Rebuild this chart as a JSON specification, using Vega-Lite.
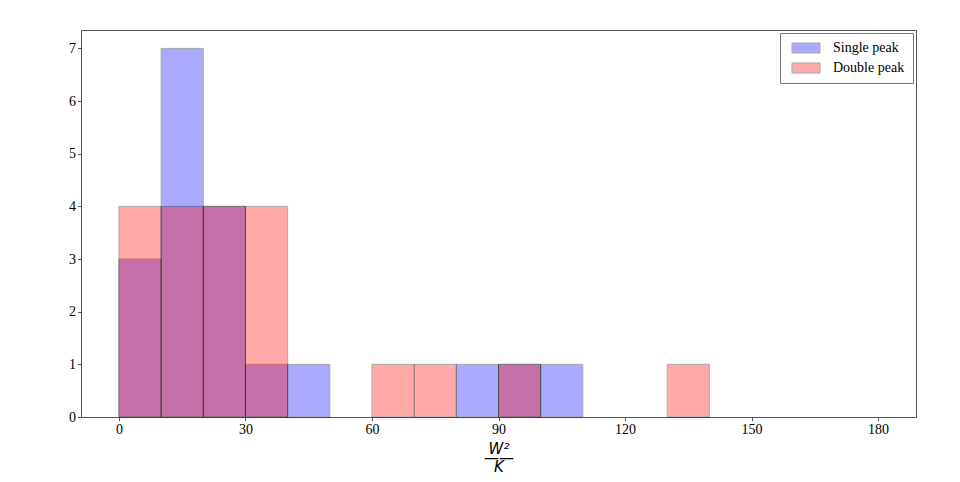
{
  "$schema": "https://vega.github.io/schema/vega-lite/v6.json",
  "width": 835,
  "height": 387,
  "autosize": {"type": "none"},
  "padding": {"left": 81, "top": 30, "right": 44, "bottom": 65},
  "background": "white",
  "config": {
    "view": {"stroke": "#555", "strokeWidth": 1},
    "axis": {
      "grid": false,
      "domainColor": "#555",
      "tickColor": "#555",
      "tickSize": 3.5,
      "labelFont": "Liberation Serif",
      "labelFontSize": 14,
      "labelColor": "#000",
      "labelPadding": 2
    },
    "legend": {
      "labelFont": "Liberation Serif",
      "labelFontSize": 14,
      "labelColor": "#000"
    }
  },
  "datasets": {
    "bins": [
      {"series": "Single peak", "start": 0, "end": 10, "count": 3},
      {"series": "Single peak", "start": 10, "end": 20, "count": 7},
      {"series": "Single peak", "start": 20, "end": 30, "count": 4},
      {"series": "Single peak", "start": 30, "end": 40, "count": 1},
      {"series": "Single peak", "start": 40, "end": 50, "count": 1},
      {"series": "Single peak", "start": 80, "end": 90, "count": 1},
      {"series": "Single peak", "start": 90, "end": 100, "count": 1},
      {"series": "Single peak", "start": 100, "end": 110, "count": 1},
      {"series": "Double peak", "start": 0, "end": 10, "count": 4},
      {"series": "Double peak", "start": 10, "end": 20, "count": 4},
      {"series": "Double peak", "start": 20, "end": 30, "count": 4},
      {"series": "Double peak", "start": 30, "end": 40, "count": 4},
      {"series": "Double peak", "start": 60, "end": 70, "count": 1},
      {"series": "Double peak", "start": 70, "end": 80, "count": 1},
      {"series": "Double peak", "start": 90, "end": 100, "count": 1},
      {"series": "Double peak", "start": 130, "end": 140, "count": 1}
    ]
  },
  "data": {"name": "bins"},
  "encoding": {
    "x": {
      "field": "start",
      "type": "quantitative",
      "scale": {"domain": [-9, 189], "nice": false, "zero": false},
      "axis": {
        "values": [0, 30, 60, 90, 120, 150, 180],
        "title": ["W²", "——", "K"],
        "titleFont": "DejaVu Sans",
        "titleFontStyle": "italic",
        "titleFontWeight": "normal",
        "titleFontSize": 15,
        "titleLineHeight": 9,
        "titlePadding": 5,
        "titleColor": "#000"
      }
    },
    "x2": {"field": "end"},
    "y": {
      "field": "count",
      "type": "quantitative",
      "scale": {"domain": [0, 7.35], "nice": false},
      "axis": {"values": [0, 1, 2, 3, 4, 5, 6, 7], "title": null}
    },
    "y2": {"datum": 0},
    "color": {
      "field": "series",
      "type": "nominal",
      "scale": {"domain": ["Single peak", "Double peak"], "range": ["#0000ff", "#ff0000"]},
      "legend": {
        "title": null,
        "orient": "top-right",
        "offset": 3,
        "strokeColor": "#777",
        "fillColor": "white",
        "padding": 8,
        "rowPadding": 6,
        "symbolType": "M-2.8,-1H2.8V1H-2.8Z",
        "symbolSize": 100,
        "symbolOffset": 11,
        "symbolStrokeColor": "#000",
        "symbolStrokeWidth": 1,
        "symbolOpacity": 0.333,
        "labelOffset": 20,
        "cornerRadius": 0
      }
    }
  },
  "layer": [
    {
      "transform": [{"filter": "datum.series === 'Single peak'"}],
      "mark": {"type": "bar", "opacity": 0.333, "stroke": "#000", "strokeWidth": 1}
    },
    {
      "transform": [{"filter": "datum.series === 'Double peak'"}],
      "mark": {"type": "bar", "opacity": 0.333, "stroke": "#000", "strokeWidth": 1}
    }
  ]
}
